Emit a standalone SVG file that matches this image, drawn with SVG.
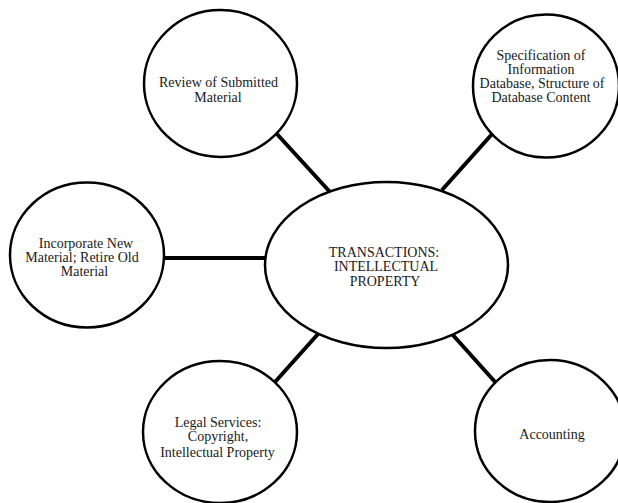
<svg xmlns="http://www.w3.org/2000/svg" width="618" height="503" viewBox="0 0 618 503">
<style>
.node{fill:#fff;stroke:#000;stroke-width:2.5}
.conn{stroke:#000;stroke-width:4;fill:none}
text{font-family:"Liberation Serif","Times New Roman",serif;font-size:14px;fill:#1a1a1a;text-anchor:middle}
</style>
<rect width="618" height="503" fill="#fff"/>
<g id="connectors">
<line class="conn" x1="276" y1="133" x2="330" y2="192"/>
<line class="conn" x1="493" y1="133" x2="442" y2="190"/>
<line class="conn" x1="163" y1="258" x2="265" y2="258"/>
<line class="conn" x1="318" y1="334" x2="275" y2="382"/>
<line class="conn" x1="452" y1="334" x2="496" y2="383"/>
</g>
<g id="center">
<ellipse class="node" cx="386.5" cy="265" rx="121.5" ry="83"/>
<text x="384" y="257">TRANSACTIONS:</text>
<text x="386" y="271">INTELLECTUAL</text>
<text x="385" y="286">PROPERTY</text>
</g>
<g id="review">
<ellipse class="node" cx="220.5" cy="83.5" rx="76.5" ry="73.5"/>
<text x="218.5" y="86.5">Review of Submitted</text>
<text x="218" y="101.5">Material</text>
</g>
<g id="spec">
<ellipse class="node" cx="546" cy="86" rx="73" ry="71.5"/>
<text x="541" y="60">Specification of</text>
<text x="541" y="74">Information</text>
<text x="542" y="88">Database, Structure of</text>
<text x="541" y="102">Database Content</text>
</g>
<g id="incorporate">
<ellipse class="node" cx="87" cy="255" rx="77" ry="72.5"/>
<text x="86" y="247.5">Incorporate New</text>
<text x="82" y="261.5">Material; Retire Old</text>
<text x="84.5" y="276">Material</text>
</g>
<g id="legal">
<ellipse class="node" cx="220" cy="432" rx="77" ry="71"/>
<text x="218" y="427">Legal Services:</text>
<text x="218" y="441">Copyright,</text>
<text x="217.5" y="457">Intellectual Property</text>
</g>
<g id="accounting">
<ellipse class="node" cx="550" cy="431" rx="75" ry="71"/>
<text x="552" y="439">Accounting</text>
</g>
</svg>
